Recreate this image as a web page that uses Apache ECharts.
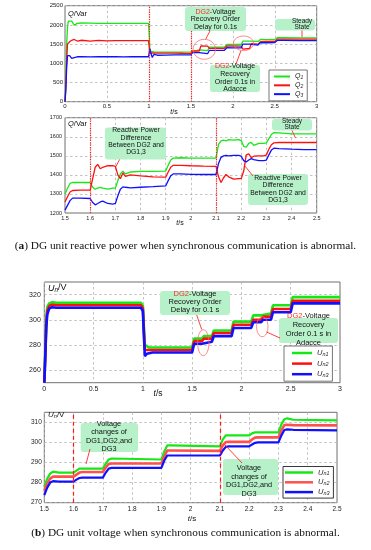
<!DOCTYPE html>
<html><head><meta charset="utf-8">
<script src="https://cdn.jsdelivr.net/npm/echarts@6/dist/echarts.min.js"></script>
<style>html,body{margin:0;padding:0;background:#fff}#c{width:371px;height:550px}</style>
</head><body><div id="c"></div>
<script>
// ---------- (a) top: reactive power 0..3 s ----------
const TA  = [0,0.01,0.02,0.03,0.04,0.055,0.08,0.11,0.145,0.2,0.3,0.4,0.5,0.6,0.7,0.8,0.9,0.995,1.005,1.01,1.02,1.04,1.06,1.1,1.2,1.3,1.4,1.5,1.52,1.6,1.62,1.7,1.72,1.8,1.9,1.93,2.0,2.1,2.12,2.2,2.22,2.3,2.33,2.4,2.5,2.53,2.6,2.8,3.0];
const QA1 = [0,600,1500,1950,2100,2150,2100,1990,2040,2050,2045,2040,2042,2040,2040,2042,2040,2040,1700,1400,1320,1280,1300,1290,1290,1290,1292,1300,1350,1350,1330,1330,1420,1420,1420,1490,1490,1490,1580,1580,1555,1570,1620,1615,1620,1665,1665,1662,1660];
const QA2 = [0,400,1100,1500,1520,1560,1600,1620,1580,1600,1580,1595,1585,1590,1588,1590,1590,1590,1400,1250,1230,1270,1260,1265,1265,1265,1262,1260,1320,1320,1450,1445,1390,1395,1390,1450,1450,1445,1370,1385,1510,1500,1565,1570,1570,1630,1630,1628,1628];
const QA3 = [0,300,900,1200,1250,1200,1130,1150,1170,1170,1168,1170,1170,1170,1168,1170,1170,1170,1300,1380,1300,1150,1230,1210,1215,1218,1220,1220,1280,1280,1250,1250,1335,1335,1340,1405,1400,1400,1500,1500,1470,1475,1540,1535,1540,1595,1595,1592,1592];
const VL_A = [1, 1.5];

// ---------- (a) bottom: reactive power 1.5..2.5 s ----------
const TB  = [1.5,1.51,1.52,1.53,1.56,1.6,1.61,1.62,1.63,1.64,1.65,1.67,1.69,1.7,1.71,1.72,1.73,1.74,1.76,1.8,1.85,1.9,1.91,1.92,1.93,1.96,2.0,2.05,2.1,2.11,2.12,2.13,2.14,2.15,2.17,2.19,2.2,2.21,2.22,2.23,2.24,2.25,2.27,2.29,2.3,2.31,2.32,2.33,2.35,2.4,2.45,2.5];
const QB1 = [1300,1330,1355,1360,1360,1360,1335,1325,1330,1335,1330,1325,1330,1330,1370,1405,1420,1405,1415,1418,1418,1420,1450,1478,1488,1490,1488,1488,1488,1560,1578,1582,1578,1585,1582,1585,1580,1550,1545,1565,1570,1555,1565,1565,1568,1590,1612,1622,1620,1615,1615,1615];
const QB2 = [1258,1285,1310,1318,1320,1320,1380,1440,1455,1432,1440,1448,1448,1445,1400,1380,1410,1392,1400,1395,1390,1388,1415,1440,1450,1450,1448,1446,1445,1390,1360,1385,1402,1390,1378,1380,1380,1420,1505,1510,1490,1498,1500,1500,1505,1535,1558,1568,1570,1570,1570,1570];
const QB3 = [1215,1240,1265,1278,1278,1276,1255,1243,1250,1258,1262,1250,1247,1250,1290,1325,1337,1335,1332,1335,1338,1342,1370,1395,1405,1405,1403,1402,1402,1460,1492,1500,1502,1500,1502,1502,1498,1475,1468,1478,1485,1480,1475,1475,1478,1505,1530,1540,1538,1535,1533,1532];
const VL_B = [1.6, 2.1];

// ---------- (b) top: voltage 0..3 s ----------
const TC  = [0,0.01,0.02,0.03,0.05,0.08,0.12,0.2,0.4,0.6,0.8,0.98,1.0,1.01,1.02,1.04,1.06,1.1,1.3,1.5,1.52,1.6,1.62,1.7,1.72,1.9,1.92,2.1,2.12,2.2,2.22,2.3,2.32,2.5,2.52,2.6,2.8,3.0];
const UC1 = [250,275,300,310,313,314,313.5,313.5,313.5,313.5,313.5,313.5,311,295,280,278.5,278,278,278,278,285,285,287,287,291.5,291.5,298.5,298.5,303.5,303.5,305,305,311.5,311.5,318,318,318,318];
const UC2 = [250,272,297,307,311,312,311.5,311.5,311.5,311.5,311.5,311.5,309,292,276,276,276,276,276,276,283,283,285,285,289.5,289.5,296,296,300,300,302.5,302.5,308.5,308.5,315,315,315,315];
const UC3 = [250,270,294,304,309,310,309.5,309.5,309.5,309.5,309.5,309.5,307,288,271,273,274,274,274,274,281,281,282.5,282.5,287,287,293.5,293.5,298,298,300,300,306,306,313,313,313,313];
const YC_TICKS = [260, 280, 300, 320];

// ---------- (b) bottom: voltage 1.5..2.5 s ----------
const TD  = [1.5,1.51,1.52,1.53,1.55,1.6,1.61,1.62,1.63,1.7,1.71,1.72,1.73,1.9,1.91,1.92,1.93,2.1,2.11,2.12,2.13,2.2,2.21,2.22,2.23,2.3,2.31,2.32,2.33,2.35,2.5];
const UD1 = [278,282,284.5,285.5,285,285,286,287,287,287,289.5,291.5,292,291.5,295.5,298.5,298.5,298,301.5,303.5,303.5,303.5,304.5,305,305,305,309,311.5,312,311.3,311];
const UD2 = [276,279.5,282,283,283,283,284,285,285.3,285.3,287.5,289.3,289.5,289.5,293,296,296,295.8,298.5,300.2,300.3,300.3,301.5,302.4,302.5,302.5,306,308.6,308.8,308.6,308.5];
const UD3 = [273.8,277.5,280,280.7,280.5,280.5,281.5,282.3,282.5,282.5,285,287,287.3,287.3,291,293.5,293.5,293.5,296,297.8,298,298,299,299.8,300,300,303.5,306.2,306.5,306.3,306];
const YD_TICKS = [270, 280, 290, 300, 310];
const VL_D = [1.6, 2.1];

const CAP_A = 'DG unit reactive power when synchronous communication is abnormal.';
const CAP_B = 'DG unit voltage when synchronous communication is abnormal.';

// ---------- build ----------
const F = '"Liberation Sans", Arial, sans-serif';
const GREEN = '#16e816', RED = '#ff1010', BLUE = '#1010ff';
const zip = (t, v) => t.map((x, i) => [x, v[i]]);
const plain = v => String(Math.round(v * 1000) / 1000);

function ax(gi, min, max, interval, size, margin, extra) {
  return Object.assign({
    gridIndex: gi, type: 'value', min, max, interval,
    axisLine: {show: false}, axisTick: {show: false},
    axisLabel: {fontSize: size, color: '#222', margin, fontFamily: F, formatter: plain},
    splitLine: {show: true, lineStyle: {color: '#b4b4b4', type: [2.5, 2.5], width: 0.8}}
  }, extra || {});
}
function vlines(arr, type) {
  return {silent: true, symbol: 'none', label: {show: false}, animation: false,
    lineStyle: {color: '#ff1a1a', type, width: 1.2}, data: arr.map(v => ({xAxis: v}))};
}
function ser(name, gi, t, v, color, w, ml) {
  const s = {name, type: 'line', xAxisIndex: gi, yAxisIndex: gi, data: zip(t, v),
    showSymbol: false, symbol: 'none', lineStyle: {color, width: w}, itemStyle: {color}, z: 3};
  if (ml) s.markLine = ml;
  return s;
}
const grid = {show: true, borderColor: '#707070', borderWidth: 1};
const grids = [
  Object.assign({left: 65, top: 5.7, width: 251.7, height: 96}, grid),
  Object.assign({left: 65, top: 117.7, width: 251.7, height: 95.3}, grid),
  Object.assign({left: 44.3, top: 282, width: 295.7, height: 100.7}, grid),
  Object.assign({left: 44.3, top: 412.3, width: 292.7, height: 90.4}, grid)
];

function legendFmt(name) {
  const d = name.match(/\d/)[0];
  return name[0] === 'Q' ? '{i|Q}{s|' + d + '}' : '{i|U}{s|n' + d + '}';
}
function legend(data, left, top, iw, ih, gap, pad, fs, border) {
  return {data, orient: 'vertical', left, top, itemWidth: iw, itemHeight: ih, itemGap: gap,
    icon: 'rect', padding: pad, borderColor: border, borderWidth: 0.9, backgroundColor: '#fff',
    selectedMode: false, z: 30, formatter: legendFmt,
    textStyle: {fontFamily: F, color: '#222', fontSize: fs,
      rich: {i: {fontStyle: 'italic', fontSize: fs, fontFamily: F, color: '#222'},
             s: {fontStyle: 'italic', fontSize: fs * 0.72, fontFamily: F, color: '#222', padding: [fs * 0.35, 0, 0, 0]}}}};
}

// graphic helpers
const G = [];
function txt(x, y, text, size, lh, align, rich, extraFont) {
  const font = (extraFont || '') + size + 'px ' + F;
  G.push({type: 'text', x, y, z: 20, silent: true, style: {
    text, font, fill: '#111', align: align || 'center', verticalAlign: 'middle',
    textAlign: align || 'center', textVerticalAlign: 'middle', lineHeight: lh,
    rich: Object.assign({
      r: {fill: '#ff2a2a', font, lineHeight: lh},
      i: {fontStyle: 'italic', font: 'italic ' + size + 'px ' + F, fill: '#111', lineHeight: lh},
      s: {font: 'italic ' + (size * 0.7).toFixed(1) + 'px ' + F, fill: '#111', lineHeight: lh, padding: [size * 0.4, 0, 0, 0]}
    }, rich || {})}});
}
function box(x, y, w, h) {
  G.push({type: 'rect', z: 15, silent: true, shape: {x, y, width: w, height: h, r: 3},
    style: {fill: '#b6f1ca', stroke: 'none'}});
}
function ln(x1, y1, x2, y2) {
  G.push({type: 'line', z: 16, silent: true, shape: {x1, y1, x2, y2}, style: {stroke: '#ff2a2a', lineWidth: 0.9}});
}
function ell(cx, cy, rx, ry) {
  G.push({type: 'ellipse', z: 16, silent: true, shape: {cx, cy, rx, ry}, style: {fill: 'none', stroke: '#ff6a6a', lineWidth: 0.8}});
}

// chart (a) top annotations
txt(68, 14, '{i|Q}/Var', 7.5, 9, 'left');
box(185, 7, 61, 24);
txt(215.5, 19.3, '{r|DG2}-Voltage\nRecovery Order\nDelay for 0.1s', 7, 7.5);
ln(210, 31, 205.5, 39.5);
ell(204.3, 49.3, 11.2, 10);
ell(243.5, 43.3, 10, 7.3);
ln(241, 50.6, 236, 64);
box(210, 65, 50, 27);
txt(235, 77.7, '{r|DG2}-Voltage\nRecovery\nOrder 0.1s in\nAdacce', 7, 7.8);
box(275, 19, 40, 11.5);
txt(302, 24.3, 'Steady\nState', 6.5, 5.8);
ln(302, 30.5, 302, 37);
txt(174, 112, '{i|t}/s', 7, 9);

// chart (a) bottom annotations
txt(68, 124, '{i|Q}/Var', 7.5, 9, 'left');
box(105, 127.5, 61, 32);
txt(136, 141.5, 'Reactive Power\nDifference\nBetween DG2 and\nDG1,3', 6.8, 7.4);
ln(119.5, 159.5, 116, 166.5);
box(248, 174, 60, 31);
txt(278, 189, 'Reactive Power\nDifference\nBetween DG2 and\nDG1,3', 6.8, 7.4);
ln(244.5, 165.5, 253, 176);
box(272, 119, 40, 11.5);
txt(292, 124.6, 'Steady\nState', 6.5, 5.8);
ln(292, 130.5, 295.5, 138);
txt(180, 223.3, '{i|t}/s', 7, 9);

// chart (b) top annotations
txt(48, 288, '{i|U}{s|n}/V', 9, 11, 'left');
box(160, 291, 70, 24);
txt(195, 302, '{r|DG2}-Voltage\nRecovery Order\nDelay for 0.1 s', 7.5, 7.6);
ln(196.7, 315, 201.7, 329.5);
ell(203.3, 342.7, 5.7, 13);
ell(262.3, 326.7, 5.7, 10);
ln(266.5, 332, 280, 338);
box(279, 318, 59, 25);
txt(308.5, 329.5, '{r|DG2}-Voltage\nRecovery\nOrder 0.1 s in\nAdacce', 7.5, 9.2);
txt(158, 394, '{i|t}/s', 8.5, 10);

// chart (b) bottom annotations
txt(48, 415, '{i|U}{s|n}/V', 8, 10, 'left');
box(80.7, 423, 57.3, 29);
txt(109, 436.4, 'Voltage\nchanges of\nDG1,DG2,and\nDG3', 7.3, 8.3);
ln(90, 449, 86, 464);
box(223, 459, 55, 36);
txt(249, 481, 'Voltage\nchanges of\nDG1,DG2,and\nDG3', 7.3, 8.6);
ln(225, 445, 242, 463);
txt(192, 519, '{i|t}/s', 8, 10);

// captions
G.push({type: 'text', x: 185.5, y: 245.7, z: 20, silent: true, style: {
  text: '({b|a}) ' + CAP_A, font: '11.3px "Liberation Serif", serif', fill: '#111',
  align: 'center', verticalAlign: 'middle', textAlign: 'center', textVerticalAlign: 'middle',
  rich: {b: {font: 'bold 11.3px "Liberation Serif", serif', fill: '#111'}}}});
G.push({type: 'text', x: 185.5, y: 533, z: 20, silent: true, style: {
  text: '({b|b}) ' + CAP_B, font: '11.3px "Liberation Serif", serif', fill: '#111',
  align: 'center', verticalAlign: 'middle', textAlign: 'center', textVerticalAlign: 'middle',
  rich: {b: {font: 'bold 11.3px "Liberation Serif", serif', fill: '#111'}}}});

const option = {
  animation: false,
  backgroundColor: '#fff',
  grid: grids,
  xAxis: [
    ax(0, 0, 3, 0.5, 6, 2),
    ax(1, 1.5, 2.5, 0.1, 5.5, 2),
    ax(2, 0, 3, 0.5, 7, 3),
    ax(3, 1.5, 2.5, 0.1, 6.5, 3)
  ],
  yAxis: [
    ax(0, 0, 2500, 500, 6, 2),
    ax(1, 1200, 1700, 100, 5.5, 3),
    ax(2, 250, 330, null, 7, 3.5, {axisTick: {show: false, customValues: YC_TICKS}}),
    ax(3, 270, 315, null, 6.5, 2.5, {axisTick: {show: false, customValues: YD_TICKS}})
  ],
  legend: [
    legend(['Q1', 'Q2', 'Q3'], 269, 70, 16, 2, 1.6, [3, 4, 3, 5], 7, '#666'),
    legend(['Un1', 'Un2', 'Un3'], 284, 346, 20, 2.5, 2.6, [3, 4, 3, 8], 7.5, '#666'),
    legend(['Un1b', 'Un2b', 'Un3b'], 283, 466.5, 28, 2.5, 1.8, [2, 4, 2, 2], 7.5, '#222')
  ],
  graphic: {elements: G},
  series: [
    ser('Q1', 0, TA, QA1, GREEN, 1.3, vlines(VL_A, 'dotted')),
    ser('Q2', 0, TA, QA2, RED, 1.3),
    ser('Q3', 0, TA, QA3, BLUE, 1.3),
    ser('Q1x', 1, TB, QB1, GREEN, 1.3, vlines(VL_B, 'dotted')),
    ser('Q2x', 1, TB, QB2, RED, 1.3),
    ser('Q3x', 1, TB, QB3, BLUE, 1.3),
    ser('Un1', 2, TC, UC1, GREEN, 2.6),
    ser('Un2', 2, TC, UC2, RED, 2.6),
    ser('Un3', 2, TC, UC3, BLUE, 2.6),
    ser('Un1b', 3, TD, UD1, GREEN, 2.2, vlines(VL_D, [4, 3])),
    ser('Un2b', 3, TD, UD2, '#ff5050', 2.6),
    ser('Un3b', 3, TD, UD3, BLUE, 2.2)
  ]
};
option.yAxis[2].axisLabel.customValues = YC_TICKS;
option.yAxis[3].axisLabel.customValues = YD_TICKS;

const chart = echarts.init(document.getElementById('c'), null, {renderer: 'canvas'});
chart.setOption(option);
</script></body></html>
